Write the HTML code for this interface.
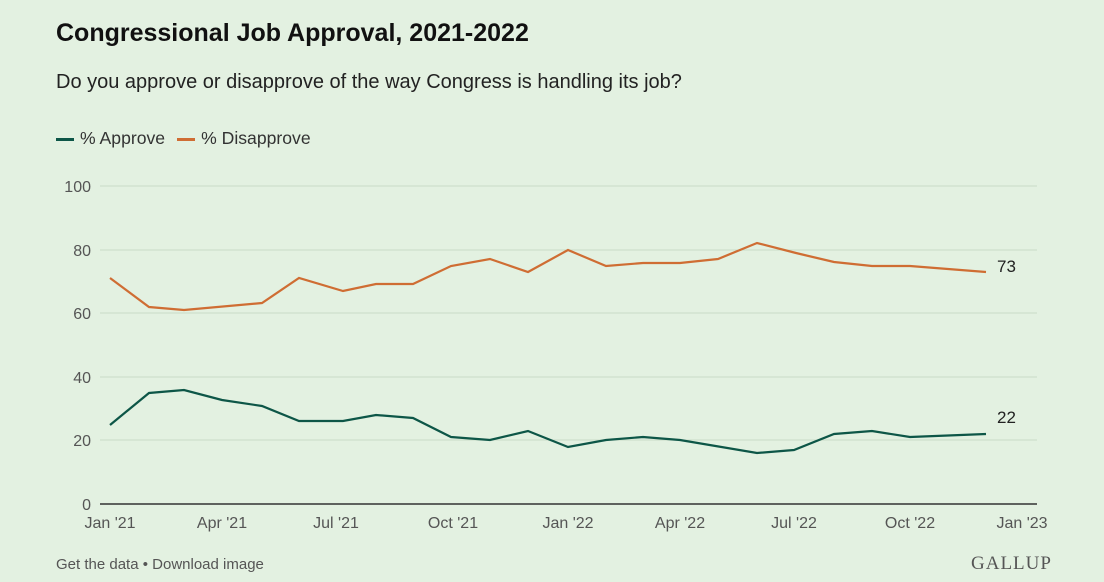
<!DOCTYPE html>
<html><head><meta charset="utf-8"><style>
body{margin:0;width:1104px;height:582px;background:#e3f1e1;font-family:"Liberation Sans",sans-serif;overflow:hidden;position:relative}
.t{position:absolute;white-space:nowrap;color:#111}
</style></head><body>
<div class="t" style="left:56px;top:19px;font-size:25px;font-weight:bold">Congressional Job Approval, 2021-2022</div>
<div class="t" style="left:56px;top:71px;font-size:20px;color:#222">Do you approve or disapprove of the way Congress is handling its job?</div>
<div class="t" style="left:56px;top:128px;font-size:17.6px;color:#333"><span style="display:inline-block;width:18px;height:3px;background:#0d5647;vertical-align:middle;margin-right:6px"></span>% Approve<span style="display:inline-block;width:18px;height:3px;background:#cf6d33;vertical-align:middle;margin:0 6px 0 12px"></span>% Disapprove</div>
<svg width="1104" height="582" style="position:absolute;left:0;top:0">
<g stroke="#c9dcc6" stroke-width="1">
<line x1="100" x2="1037" y1="186" y2="186"/><line x1="100" x2="1037" y1="250" y2="250"/><line x1="100" x2="1037" y1="313" y2="313"/><line x1="100" x2="1037" y1="377" y2="377"/><line x1="100" x2="1037" y1="440" y2="440"/>
</g>
<line x1="100" x2="1037" y1="504" y2="504" stroke="#333" stroke-width="1.5"/>
<g font-size="16" fill="#555" text-anchor="end">
<text x="91" y="192">100</text><text x="91" y="256">80</text><text x="91" y="319">60</text><text x="91" y="383">40</text><text x="91" y="446">20</text><text x="91" y="510">0</text>
</g>
<g font-size="16" fill="#555" text-anchor="middle">
<text x="110" y="528">Jan '21</text><text x="222" y="528">Apr '21</text><text x="336" y="528">Jul '21</text><text x="453" y="528">Oct '21</text><text x="568" y="528">Jan '22</text><text x="680" y="528">Apr '22</text><text x="794" y="528">Jul '22</text><text x="910" y="528">Oct '22</text><text x="1022" y="528">Jan '23</text>
</g>
<polyline fill="none" stroke="#cf6d33" stroke-width="2.2" points="110,278 149,307 184,310 262,303 299,278 343,291 376,284 413,284 451,266 490,259 528,272 568,250 606,266 643,263 680,263 718,259 757,243 796,253 834,262 872,266 910,266 986,272"/>
<polyline fill="none" stroke="#0d5647" stroke-width="2.2" points="110,425 149,393 184,390 222,400 262,406 299,421 343,421 376,415 413,418 451,437 490,440 528,431 568,447 606,440 643,437 680,440 757,453 794,450 834,434 872,431 910,437 986,434"/>
<text x="997" y="272" font-size="17" fill="#222">73</text>
<text x="997" y="423" font-size="17" fill="#222">22</text>
</svg>
<div class="t" style="left:56px;top:556px;font-size:15px;color:#555">Get the data • Download image</div>
<div class="t" style="left:971px;top:553px;font-size:19px;font-family:'Liberation Serif',serif;color:#555;letter-spacing:1px">GALLUP</div>
</body></html>
